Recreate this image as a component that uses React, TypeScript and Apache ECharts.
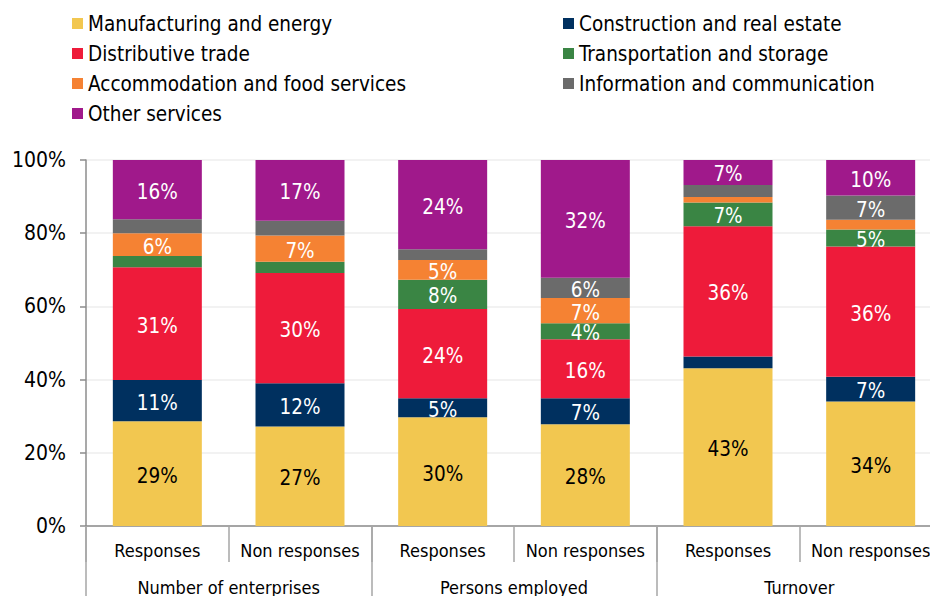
import React, { useEffect, useRef } from "react";
import * as echarts from "echarts";

const categories = ["Responses", "Non responses", "Responses", "Non responses", "Responses", "Non responses"];
const groups = ["Number of enterprises", "Persons employed", "Turnover"];
const yTicks = [0, 20, 40, 60, 80, 100];

const manufacturing = [28.6, 27.2, 29.7, 27.8, 43.1, 34.0];
const construction = [11.3, 11.8, 5.2, 7.1, 3.2, 6.8];
const distributive = [30.8, 30.1, 24.4, 16.1, 35.6, 35.6];
const transportation = [3.1, 3.1, 8.0, 4.4, 6.5, 4.6];
const accommodation = [6.2, 7.2, 5.4, 6.9, 1.5, 2.7];
const information = [3.8, 4.0, 2.9, 5.5, 3.3, 6.6];
const otherServices = [16.2, 16.6, 24.4, 32.2, 6.8, 9.7];

const seriesDefs = [
  { name: "Manufacturing and energy", data: manufacturing, color: "#F2C750", label: "#000000" },
  { name: "Construction and real estate", data: construction, color: "#00305F", label: "#FFFFFF" },
  { name: "Distributive trade", data: distributive, color: "#EE1B3A", label: "#FFFFFF" },
  { name: "Transportation and storage", data: transportation, color: "#3A8544", label: "#FFFFFF" },
  { name: "Accommodation and food services", data: accommodation, color: "#F58233", label: "#FFFFFF" },
  { name: "Information and communication", data: information, color: "#6B6B6B", label: "#FFFFFF" },
  { name: "Other services", data: otherServices, color: "#A0198B", label: "#FFFFFF" },
];

const legendLeft = ["Manufacturing and energy", "Distributive trade", "Accommodation and food services", "Other services"];
const legendRight = ["Construction and real estate", "Transportation and storage", "Information and communication"];

const FONT = "'DejaVu Sans Condensed', 'DejaVu Sans', sans-serif";

export default function App() {
  const ref = useRef<HTMLDivElement>(null);
  useEffect(() => {
    document.body.style.margin = "0";
    if (!ref.current) return;
    const chart = echarts.init(ref.current, undefined, { renderer: "svg" });
    const legendCommon = {
      orient: "vertical" as const,
      top: 8,
      itemWidth: 11,
      itemHeight: 11,
      itemGap: 9,
      icon: "rect",
      selectedMode: false,
      textStyle: { fontSize: 20.5, color: "#000", fontFamily: FONT },
    };
    chart.setOption({
      animation: false,
      textStyle: { fontFamily: FONT },
      legend: [
        { ...legendCommon, left: 67, data: legendLeft },
        { ...legendCommon, left: 558, data: legendRight },
      ],
      grid: { left: 86, top: 160, width: 856, height: 368, containLabel: false },
      xAxis: [
        {
          type: "category",
          data: categories,
          position: "bottom",
          axisLine: { show: true, lineStyle: { color: "#8C8C8C", width: 1.5 } },
          axisTick: { show: true, interval: 0, length: 36, lineStyle: { color: "#A6A6A6", width: 1.5 } },
          axisLabel: { interval: 0, fontSize: 18, color: "#000", margin: 15, fontFamily: FONT },
          splitLine: { show: false },
        },
        {
          type: "category",
          data: groups,
          position: "bottom",
          axisLine: { show: false },
          axisTick: { show: true, interval: 0, length: 90, lineStyle: { color: "#A6A6A6", width: 1.5 } },
          axisLabel: { interval: 0, fontSize: 18, color: "#000", margin: 52, fontFamily: FONT },
          splitLine: { show: false },
        },
      ],
      yAxis: {
        type: "value",
        min: yTicks[0],
        max: yTicks[yTicks.length - 1],
        interval: 20,
        axisLine: { show: true, lineStyle: { color: "#8C8C8C", width: 1.5 } },
        axisTick: { show: true, length: 6, lineStyle: { color: "#8C8C8C", width: 1.5 } },
        axisLabel: { formatter: "{value}%", fontSize: 21, color: "#000", margin: 20, fontFamily: FONT },
        splitLine: { show: true, lineStyle: { color: "#EEEEEE", width: 1.5 } },
      },
      series: seriesDefs.map((s) => ({
        name: s.name,
        type: "bar",
        stack: "total",
        xAxisIndex: 0,
        barWidth: 89,
        data: s.data,
        itemStyle: { color: s.color },
        label: {
          show: true,
          position: "inside",
          offset: [0, 2],
          fontSize: 20.5,
          lineHeight: 18,
          fontFamily: FONT,
          color: s.label,
          formatter: (p: any) => (p.value >= 4.2 ? Math.round(p.value) + "%" : ""),
        },
      })),
    });
    return () => chart.dispose();
  }, []);
  return (
    <div style={{ width: 930, height: 596, overflow: "hidden" }}>
      <div ref={ref} style={{ width: 960, height: 596 }} />
    </div>
  );
}
